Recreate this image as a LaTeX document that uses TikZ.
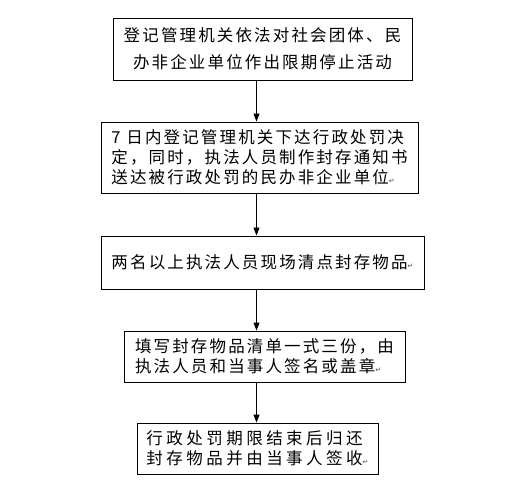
\documentclass[tikz,border=0pt]{standalone}
\usepackage{fontspec}
\usepackage{tikz}
\usetikzlibrary{arrows.meta,positioning}
\newfontfamily\cjk[LetterSpace=13]{Noto Sans CJK SC}
\newfontfamily\cjkwide[LetterSpace=21]{Noto Sans CJK SC}
\newfontfamily\marksym{DejaVu Sans}
\newcommand{\pmark}{{\marksym\fontsize{7}{7}\selectfont\color{black!70}↵}}

\begin{document}
\begin{tikzpicture}[x=1pt, y=-1pt,
  box/.style={draw, line width=0.9pt, inner sep=0pt, font=\cjk\fontsize{16.5}{20}\selectfont},
  flow/.style={-{Triangle[length=8pt,width=6pt]}, line width=0.9pt},
]
\useasboundingbox (0,0) rectangle (506,481);
\coordinate (axis) at (256.5,0);
\node[box, minimum width=299pt, minimum height=62pt, align=center] (stop) at (262.5,49)
  {登记管理机关依法对社会团体、民\\[7pt]办非企业单位作出限期停止活动};
\node[box, minimum width=317pt, minimum height=71pt, align=left] (decide) at (259.5,157.5)
  {7 日内登记管理机关下达行政处罚决\\定，同时，执法人员制作封存通知书\\送达被行政处罚的民办非企业单位\pmark};
\node[box, minimum width=323pt, minimum height=53pt, align=left] (count) at (262.5,262.5)
  {两名以上执法人员现场清点封存物品\pmark};
\node[box, minimum width=281pt, minimum height=51pt, align=left] (list) at (264.5,356.5)
  {填写封存物品清单一式三份，由\\执法人员和当事人签名或盖章\pmark};
\node[box, minimum width=241pt, minimum height=51pt, align=left,
  font=\cjkwide\fontsize{16.5}{20}\selectfont] (return) at (257.5,448.5)
  {行政处罚期限结束后归还\\封存物品并由当事人签收\pmark};

\draw[flow] (stop.south -| axis) -- (decide.north -| axis);
\draw[flow] (decide.south -| axis) -- (count.north -| axis);
\draw[flow] (count.south -| axis) -- (list.north -| axis);
\draw[flow] (list.south -| axis) -- (return.north -| axis);
\end{tikzpicture}
\end{document}
